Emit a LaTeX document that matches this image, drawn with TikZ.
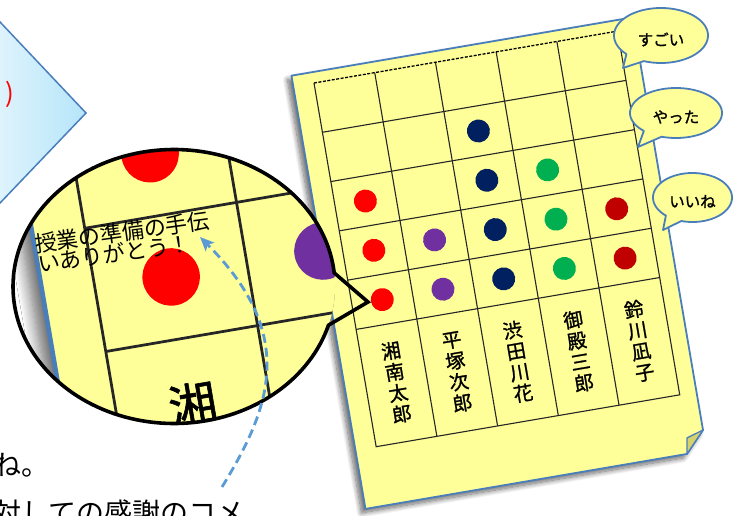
\documentclass[tikz,border=0pt]{standalone}
\usepackage{fontspec}
\newfontfamily\jp{Noto Sans CJK JP}
\newfontfamily\jpm[FakeBold=1.2]{Noto Sans CJK JP}
\usetikzlibrary{shadows.blur,arrows.meta}
\definecolor{paperY}{HTML}{FFFF99}
\definecolor{edgeB}{HTML}{4A7EBB}
\definecolor{dotRed}{HTML}{FF0000}
\definecolor{dotNavy}{HTML}{002060}
\definecolor{dotGreen}{HTML}{00B050}
\definecolor{dotPurple}{HTML}{7030A0}
\definecolor{dotDark}{HTML}{C00000}
\definecolor{foldY}{HTML}{D5D26C}
\definecolor{arrowB}{HTML}{5B9BD5}
\definecolor{lightBa}{HTML}{E2F5FD}
\definecolor{lightBb}{HTML}{B6E5F9}
\tikzset{
  gridl/.style={line width=1.1pt, draw=black!85},
  dottedtop/.style={line width=1.3pt, draw=black, dash pattern=on 3pt off 1.5pt},
  namebox/.style={font=\jpm\fontsize{19.5}{21.3}\selectfont, align=center, inner sep=0pt, transform shape},
  bubblesty/.style={fill=paperY, draw=edgeB, line width=1.8pt, line join=round},
  bubbletext/.style={font=\jpm\fontsize{15.5}{18}\selectfont, inner sep=0pt},
  magline/.style={draw=black, line width=3.6pt, line join=miter},
  cmt/.style={font=\jp\fontsize{22}{22}\selectfont, inner sep=0pt, anchor=base west, rotate=8},
  bigtext/.style={font=\jp\fontsize{28}{30}\selectfont, inner sep=0pt, anchor=base west},
  dasharrow/.style={draw=arrowB, line width=2.8pt, dash pattern=on 9pt off 5pt, -{Stealth[length=14pt,width=12pt,inset=3pt]}},
}
\newcommand\paperbody[1]{%
\begin{scope}[shift={(314,83)},rotate=9.7]
  \filldraw[fill=paperY, draw=edgeB, line width=1.8pt, line join=round,
    blur shadow={shadow xshift=-4pt, shadow yshift=-4pt, shadow blur radius=5pt, shadow blur steps=12, shadow opacity=60}]
    (-21,-11) -- (325,-11) -- (325,407.6) -- (305.2,428.5) -- (-21,428.5) -- cycle;
  \filldraw[fill=foldY, draw=edgeB, line width=1.3pt, line join=round]
    (325,407.6) -- (307.9,412.7) -- (305.2,428.5) -- cycle;
  \foreach \v in {50,100,150,200,250} \draw[gridl] (0,\v) -- (308,\v);
  \foreach \u in {61.6,123.2,184.8,246.4} \draw[gridl] (\u,0) -- (\u,369);
  \draw[gridl] (0,0) -- (0,369) -- (308,369) -- (308,0);
  \draw[dottedtop] (0,0) -- (308,0);
  \foreach \c/\r/\dc in {3/2/dotNavy, 1/3/dotRed, 3/3/dotNavy, 4/3/dotGreen,
      1/4/dotRed, 2/4/dotPurple, 3/4/dotNavy, 4/4/dotGreen, 5/4/dotDark,
      1/5/dotRed, 2/5/dotPurple, 3/5/dotNavy, 4/5/dotGreen, 5/5/dotDark}
    \fill[\dc] ({30.8+61.6*(\c-1)},{25+50*(\r-1)}) circle[radius=11.5];
  \node[namebox] (#1n1) at (30.8,309) {湘\\南\\太\\郎};
  \node[namebox] (#1n2) at (92.4,309) {平\\塚\\次\\郎};
  \node[namebox] (#1n3) at (154.0,309) {渋\\田\\川\\花};
  \node[namebox] (#1n4) at (215.6,309) {御\\殿\\三\\郎};
  \node[namebox] (#1n5) at (277.2,309) {鈴\\川\\凪\\子};
\end{scope}}
\newcommand\bubble[9]{%
  \coordinate (#1tip) at #8;
  \draw[bubblesty] (#1tip) -- plot[domain=#6:#7, samples=90] ({#2+#4*cos(\x)},{#3+#5*sin(\x)}) -- cycle;
  \node[bubbletext] (#1) at (#2,#3+4) {#9};}
\begin{document}
\begin{tikzpicture}[x=1pt,y=-1pt]
\useasboundingbox (0,0) rectangle (738,516);
\clip (0,0) rectangle (738,516);
% left arrow shape
\shadedraw[left color=lightBa, right color=lightBb, draw=edgeB, line width=1.5pt]
  (-10,11.4) -- (86,113) -- (-10,213.5) -- cycle;
\node[font=\jp\fontsize{26}{28}\selectfont, text=dotRed, inner sep=0pt] (paren) at (10,94) {)};
% paper
\paperbody{p}
% speech bubbles
\bubble{b1}{661}{35.5}{47}{27.5}{137.4}{471.4}{(623,68)}{すごい}
\bubble{b2}{676}{113}{46}{25}{134.3}{468.3}{(638,147)}{やった}
\bubble{b3}{692.5}{197.5}{39.5}{24.5}{132.4}{466.4}{(663,230)}{いいね}
% magnifier
\begin{scope}
  \clip (174,286.5) ellipse [x radius=161, y radius=137];
  \fill[white] (0,140) rectangle (345,430);
  \begin{scope}[transform canvas={shift={(-784.5pt,472pt)},scale=2.5}]
    \paperbody{m}
  \end{scope}
  \node[cmt] (c1) at (36,253) {授業の準備の手伝};
  \node[cmt] (c2) at (39,273) {いありがとう！};
\end{scope}
\coordinate (magtip) at (368,302);
\draw[magline] (magtip) -- plot[domain=16.4:354.3, samples=160] ({174+161*cos(\x)},{286.5+137*sin(\x)}) -- cycle;
% dashed arrow
\coordinate (arrS) at (222,487);
\coordinate (arrE) at (200,237);
\draw[dasharrow] (arrS) .. controls (269.6,409.3) and (299,336) .. (arrE);
% bottom texts
\node[bigtext] (t1) at (-7,475) {ね。};
\node[bigtext] (t2) at (-7,523) {対しての感謝のコメ};
\end{tikzpicture}
\end{document}
